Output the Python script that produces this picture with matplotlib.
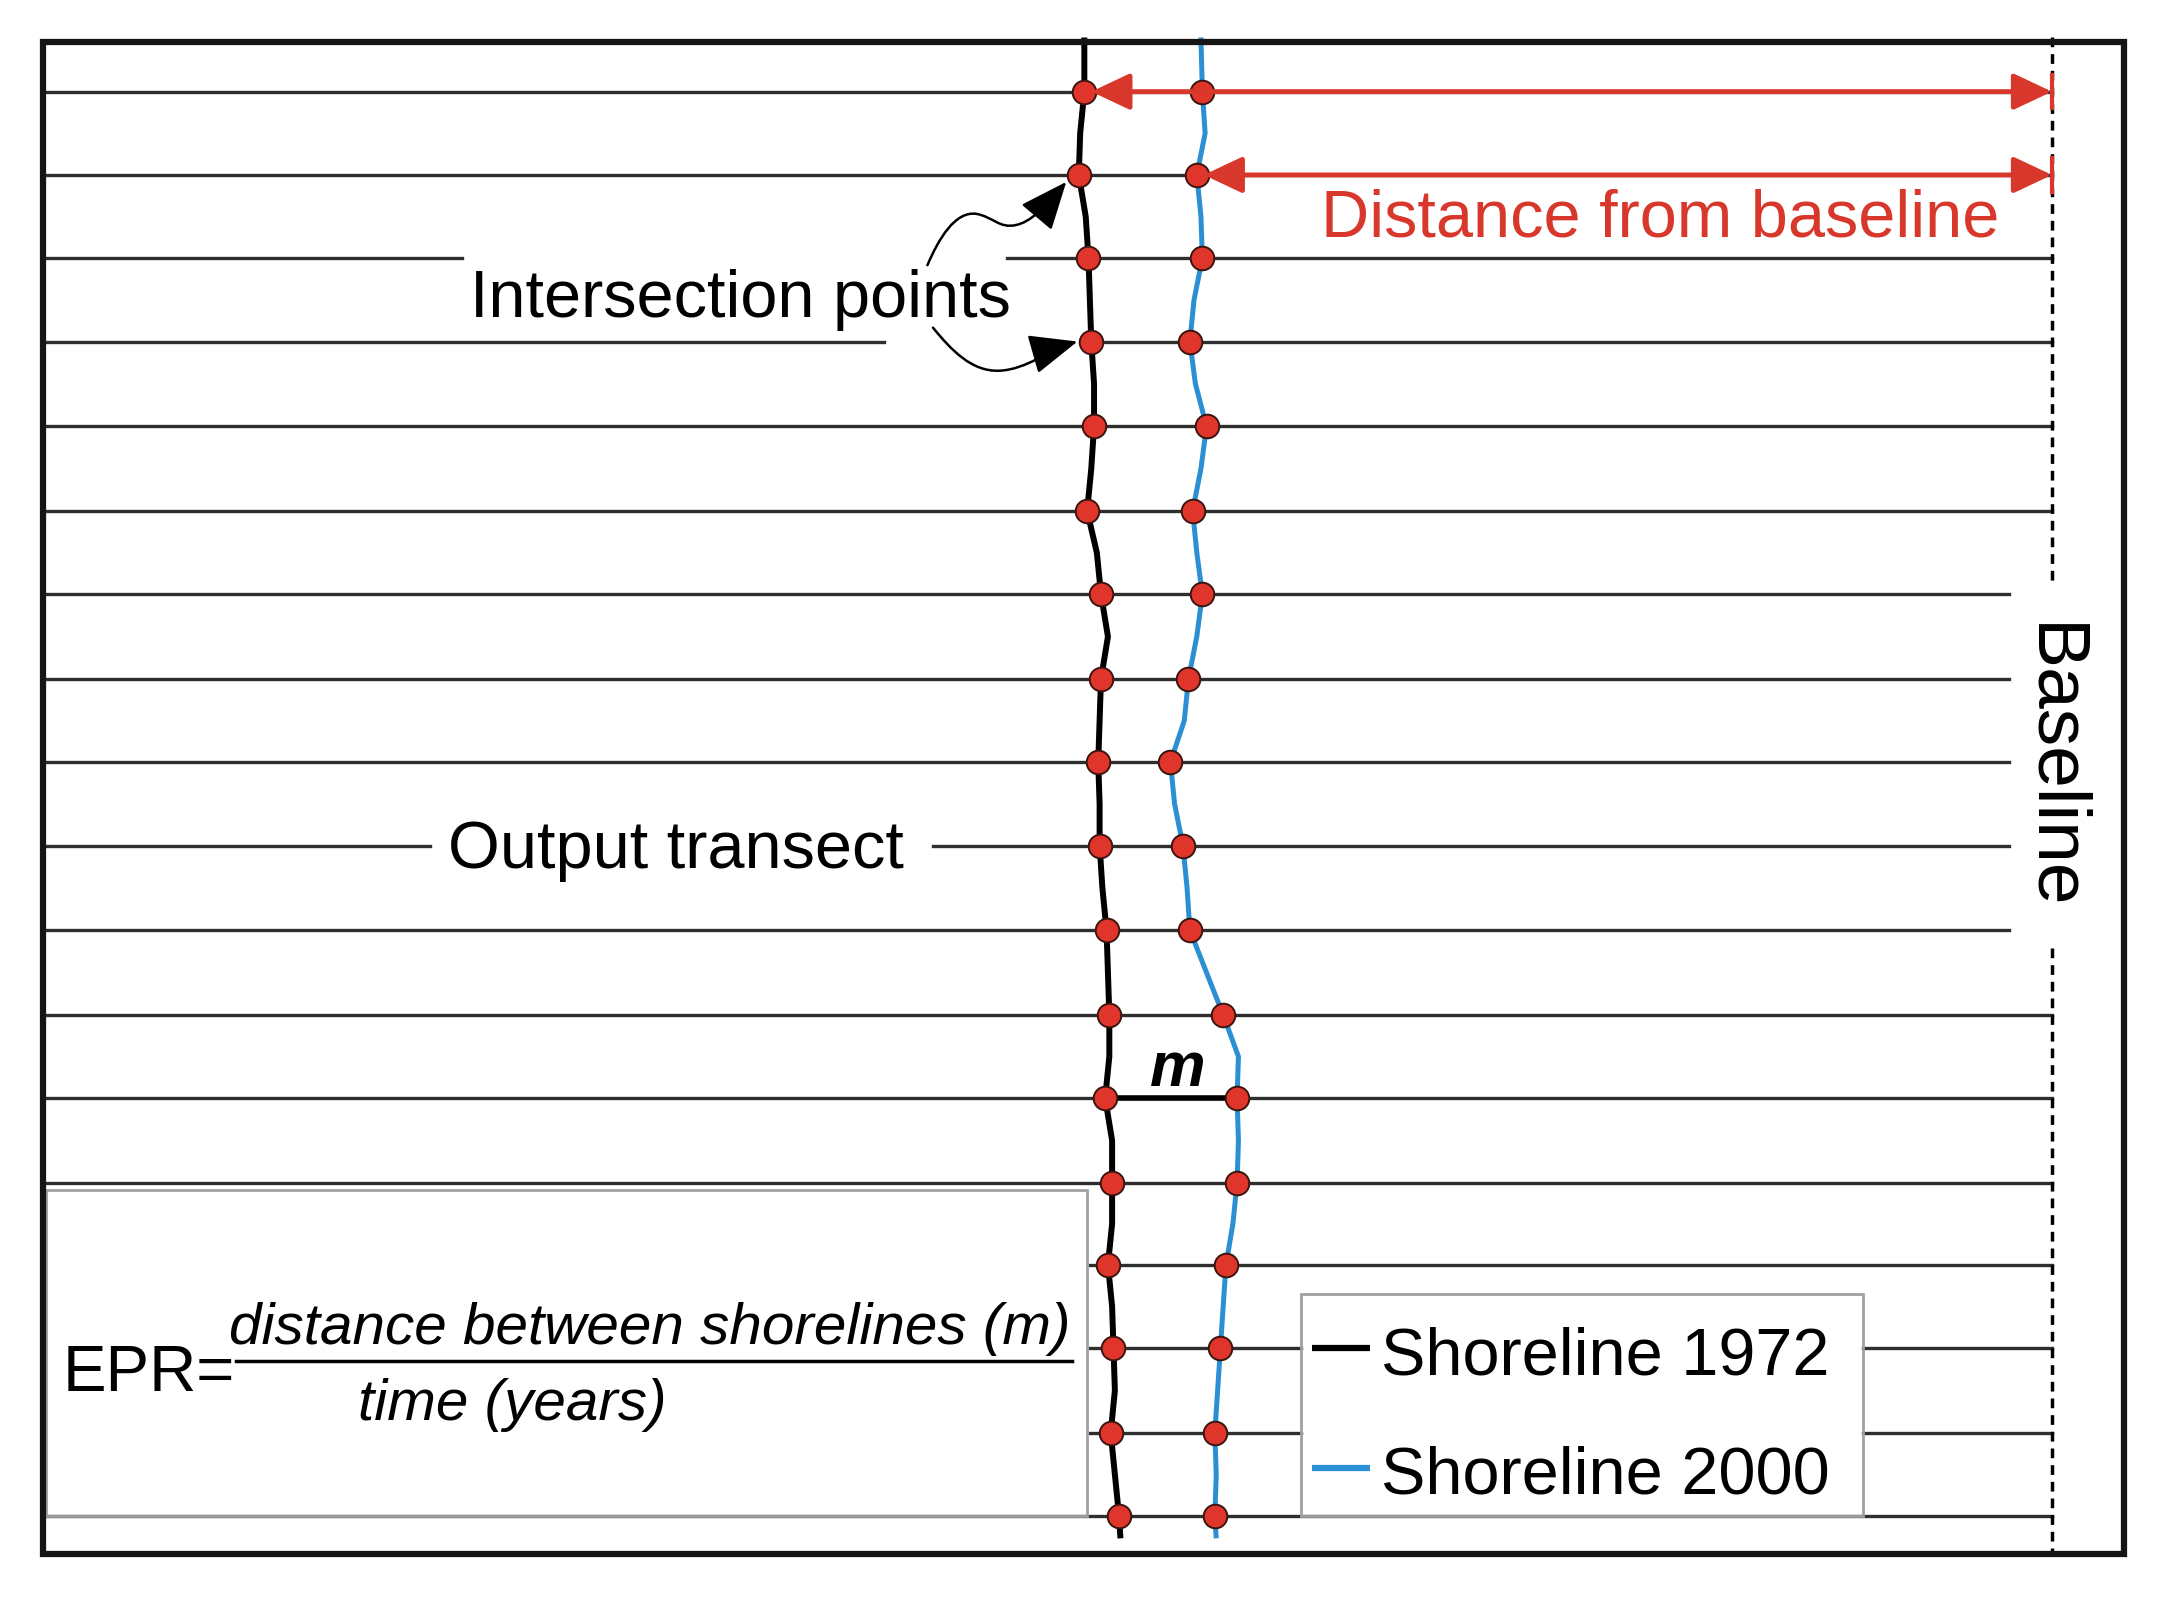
import matplotlib
matplotlib.use("Agg")
import matplotlib.pyplot as plt
from matplotlib.patches import Rectangle, FancyArrowPatch
from matplotlib.path import Path

plt.rcParams["font.family"] = ["Liberation Sans", "DejaVu Sans"]

# transects, measured in picture pixels from the top of the sketch
transect_y = [66, 126, 186, 246, 307, 368, 428, 489, 549, 609, 670, 731, 791, 852, 911, 971, 1032, 1092]

# intersection of each transect with the two shorelines
shore_1972_x = [781, 777, 784, 786, 788, 783, 793, 793, 791, 792, 797, 799, 796, 801, 798, 802, 800, 806]
shore_2000_x = [866, 862, 866, 857, 869, 859, 866, 856, 843, 852, 857, 881, 891, 891, 883, 879, 875, 875]

# shoreline trace between transects: top end, 17 in-between readings, bottom end
shore_1972_trace = [781, 778, 782, 785, 788, 786, 790, 798, 792, 792, 794, 798, 799, 801, 801, 801, 803, 803, 807]
shore_2000_trace = [865, 868, 865, 860, 861, 865, 862, 862, 853, 846, 855, 869, 892, 892, 888, 881, 877, 876, 876]

legend_labels = ["Shoreline 1972", "Shoreline 2000"]

RED = "#d8382b"
BLUE = "#2b8fd3"
GREY_LINE = "#2e2e2e"
BOX_EDGE = "#a0a0a0"

W = 1568.0
H = W * 1603 / 2177
BASE_X = 1478
TOP_Y, BOT_Y = 27, 1108


def trace_path(trace, ys):
    xs, yy = [trace[0]], [TOP_Y]
    for i, y in enumerate(ys):
        xs.append(None)
        yy.append(y)
        if i < len(ys) - 1:
            xs.append(trace[i + 1])
            yy.append((y + ys[i + 1]) / 2)
    xs.append(trace[-1])
    yy.append(BOT_Y)
    return xs, yy


def main():
    fig = plt.figure(figsize=(21.77, 16.03), dpi=100)
    ax = fig.add_axes([0, 0, 1, 1])
    ax.set_xlim(0, W)
    ax.set_ylim(H, 0)
    ax.axis("off")

    # transects with gaps for labels and boxes
    gaps = {
        2: [(333, 725)],
        3: [(637, 786)],
        9: [(310, 672)],
        14: [(33, 785)],
        15: [(33, 785), (937, 1342)],
        16: [(33, 785), (937, 1342)],
    }
    short_rows = range(6, 11)
    for i, y in enumerate(transect_y):
        x_end = 1447 if i in short_rows else BASE_X
        start = 33
        for a, b in gaps.get(i, []):
            if a > start:
                ax.plot([start, a], [y, y], color=GREY_LINE, lw=2.4, zorder=2)
            start = b
        ax.plot([start, x_end], [y, y], color=GREY_LINE, lw=2.4, zorder=2)

    # shorelines
    for pts, trace, color, lw in [
        (shore_1972_x, shore_1972_trace, "black", 4.3),
        (shore_2000_x, shore_2000_trace, BLUE, 3.6),
    ]:
        xs, ys = trace_path(trace, transect_y)
        it = iter(pts)
        xs = [next(it) if x is None else x for x in xs]
        ax.plot(xs, ys, color=color, lw=lw, solid_capstyle="butt",
                solid_joinstyle="round", zorder=4)
        ax.plot(pts, transect_y, "o", ms=17, mfc="#e0352a", mec="#3a1510", mew=1.4, zorder=6)

    # distance m between shorelines on one transect
    k = 12
    ax.plot([shore_1972_x[k], shore_2000_x[k]], [transect_y[k]] * 2, color="black", lw=4, zorder=5)
    ax.text((shore_1972_x[k] + shore_2000_x[k]) / 2 + 5, transect_y[k] - 9, "m", fontsize=45,
            fontweight="bold", style="italic", ha="center", va="baseline", zorder=7)

    # baseline (dashed, broken by its label)
    for y0, y1 in [(TOP_Y, 423), (683, 1118)]:
        ax.plot([BASE_X, BASE_X], [y0, y1], color="black", lw=2.5,
                linestyle=(0, (2.8, 2.0)), zorder=3)
    ax.text(BASE_X, 552, "Baseline", fontsize=54, rotation=-90, ha="center", va="center")

    # distance from baseline arrows
    for x0, y in [(shore_1972_x[0], transect_y[0]), (shore_2000_x[1], transect_y[1])]:
        ax.annotate("", xy=(BASE_X, y), xytext=(x0 + 5, y),
                    arrowprops=dict(arrowstyle="<|-|>,head_length=0.85,head_width=0.4",
                                    color=RED, lw=3.5, mutation_scale=28,
                                    shrinkA=0, shrinkB=0), zorder=7)
        ax.plot([BASE_X, BASE_X], [y - 12, y + 12], color=RED, lw=3, zorder=7)
    ax.text(1196, 170, "Distance from baseline", fontsize=48, color=RED,
            ha="center", va="baseline")

    # intersection points label and curly pointers
    ax.text(533.5, 228, "Intersection points", fontsize=48, ha="center", va="baseline")
    curls = [
        [(668, 191), (676, 172), (688, 152), (703, 154), (715, 156), (720, 165), (732, 162),
         (742, 160), (752, 150), (768, 131)],
        [(672, 236), (685, 252), (700, 268), (720, 267), (740, 266), (755, 252), (776, 246)],
    ]
    for verts in curls:
        codes = [Path.MOVETO] + [Path.CURVE4] * (len(verts) - 1)
        arr = FancyArrowPatch(path=Path(verts, codes),
                              arrowstyle="-|>,head_length=1.0,head_width=0.42",
                              mutation_scale=30, color="black", lw=1.8, zorder=7)
        ax.add_patch(arr)

    ax.text(486.5, 625, "Output transect", fontsize=48, ha="center", va="baseline")

    # EPR box
    ax.add_patch(Rectangle((33, 857), 750, 235, fill=False, ec=BOX_EDGE, lw=2, zorder=3))
    ax.text(45, 1002, "EPR=", fontsize=47, ha="left", va="baseline")
    ax.plot([170, 772], [980, 980], color="black", lw=2.5)
    ax.text(165, 968, "distance between shorelines (m)", fontsize=42, style="italic",
            ha="left", va="baseline")
    ax.text(258, 1023, "time (years)", fontsize=42, style="italic", ha="left", va="baseline")

    # legend box
    ax.add_patch(Rectangle((937, 932), 405, 160, fill=False, ec=BOX_EDGE, lw=2, zorder=3))
    for label, color, y in zip(legend_labels, ["black", BLUE], [971, 1057]):
        ax.plot([945, 987], [y, y], color=color, lw=4.5, solid_capstyle="butt")
        ax.text(995, y + 19, label, fontsize=48, ha="left", va="baseline")

    # frame
    ax.add_patch(Rectangle((31, 30), 1499, 1089, fill=False, ec="#151515", lw=4.5, zorder=8))

    fig.savefig("out.png", dpi=100)
    plt.close(fig)


if __name__ == "__main__":
    main()
